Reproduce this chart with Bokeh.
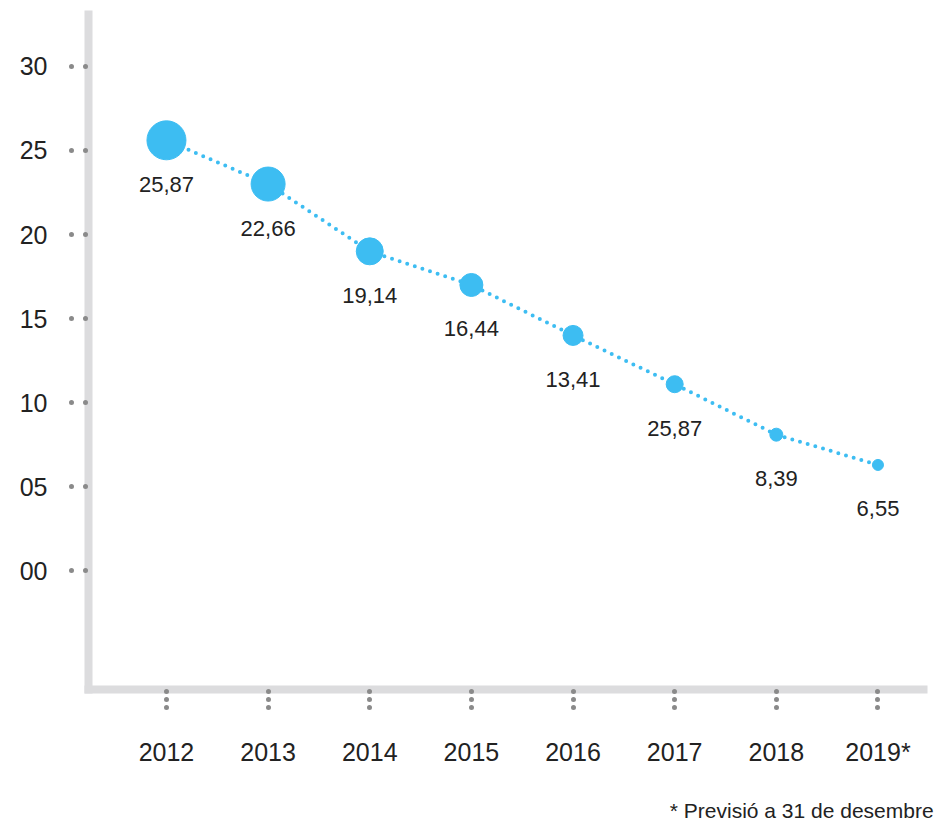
from bokeh.plotting import figure
from bokeh.models import ColumnDataSource, Range1d, FixedTicker, LinearAxis
from bokeh.core.properties import value
from bokeh.embed import file_html
from bokeh.resources import INLINE

# ---- data ----
years = [2012, 2013, 2014, 2015, 2016, 2017, 2018, 2019]
year_labels = ["2012", "2013", "2014", "2015", "2016", "2017", "2018", "2019*"]
point_values = [25.6, 23.0, 19.0, 17.0, 14.0, 11.1, 8.1, 6.3]
value_labels = ["25,87", "22,66", "19,14", "16,44", "13,41", "25,87", "8,39", "6,55"]
bubble_px = [39, 34, 27, 23, 20, 17, 13, 11]
y_ticks = [0, 5, 10, 15, 20, 25, 30]
y_tick_labels = ["00", "05", "10", "15", "20", "25", "30"]
footnote = "* Previsió a 31 de desembre"
footnote_anchor = 2018.25  # horizontal centre of the footnote, in x-axis units

FONT = "Liberation Sans"
BLUE = "#3dbdf2"
TEXT = "#222222"
AXIS = "#dcdcde"
DOT = "#8a8a8a"

src = ColumnDataSource(dict(x=years, y=point_values, lab=value_labels, size=bubble_px))

p = figure(width=952, height=824, output_backend="svg", toolbar_location=None,
           x_range=Range1d(2011.233, 2019.448), y_range=Range1d(-7.05, 33.08),
           min_border_left=88, min_border_right=29, min_border_top=14, min_border_bottom=133)
p.outline_line_color = None
p.xgrid.visible = False
p.ygrid.visible = False
p.background_fill_color = "white"
p.border_fill_color = "white"

# dotted connecting line
p.line("x", "y", source=src, line_color=BLUE, line_width=4, line_dash="0 8", line_cap="round")
# bubbles
p.scatter("x", "y", source=src, size="size", fill_color=BLUE, line_color=BLUE, line_width=1)
# value labels
p.text("x", "y", text="lab", source=src, y_offset=44, text_align="center", text_baseline="middle",
       text_font=value(FONT), text_font_size="22px", text_color=TEXT)

# axes styling
for ax in (p.xaxis[0], p.yaxis[0]):
    ax.axis_line_color = AXIS
    ax.axis_line_width = 8
    ax.axis_line_cap = "square"
    ax.minor_tick_line_color = None
    ax.major_tick_line_color = DOT
    ax.major_tick_line_cap = "round"
    ax.major_label_text_font = FONT
    ax.major_label_text_color = TEXT

p.yaxis.ticker = FixedTicker(ticks=y_ticks)
p.yaxis.major_label_overrides = {t: l for t, l in zip(y_ticks, y_tick_labels)}
p.yaxis.major_tick_in = -2
p.yaxis.major_tick_out = 17
p.yaxis.major_tick_line_width = 5
p.yaxis.major_tick_line_dash = "0 14"
p.yaxis.major_label_standoff = 24
p.yaxis.major_label_text_font_size = "25px"

p.xaxis.ticker = FixedTicker(ticks=years)
p.xaxis.major_label_overrides = {t: l for t, l in zip(years, year_labels)}
p.xaxis.major_tick_in = -1
p.xaxis.major_tick_out = 18
p.xaxis.major_tick_line_width = 5
p.xaxis.major_tick_line_dash = "0 8"
p.xaxis.major_label_standoff = 30
p.xaxis.major_label_text_font_size = "25px"

# footnote carried by a bare second axis under the first one
note_axis = LinearAxis(ticker=FixedTicker(ticks=[footnote_anchor]),
                       major_label_overrides={footnote_anchor: footnote})
note_axis.axis_line_color = None
note_axis.major_tick_line_color = None
note_axis.minor_tick_line_color = None
note_axis.major_tick_in = 0
note_axis.major_tick_out = 0
note_axis.major_label_standoff = 30
note_axis.major_label_text_font = FONT
note_axis.major_label_text_font_size = "21px"
note_axis.major_label_text_color = TEXT
p.add_layout(note_axis, "below")

open("out.html", "w").write(file_html(p, INLINE))
